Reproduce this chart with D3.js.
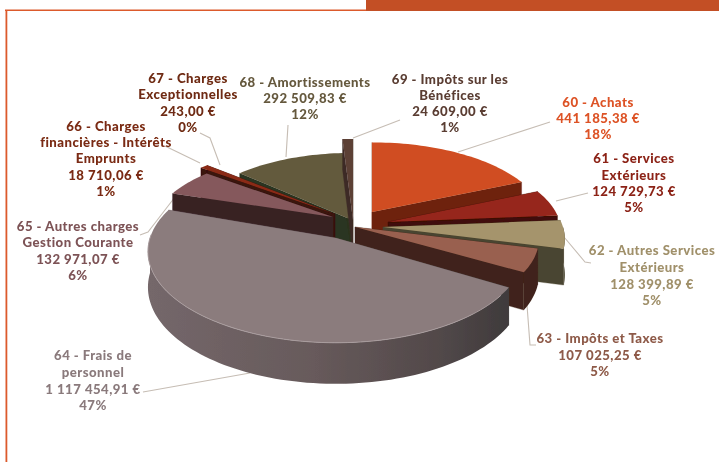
<!DOCTYPE html>
<html><head><meta charset="utf-8">
<script src="https://cdn.jsdelivr.net/npm/d3@7/dist/d3.min.js"></script>
<style>html,body{margin:0;padding:0;background:#fff}svg{display:block}text{font-family:Lato,"Open Sans",sans-serif;font-weight:900;font-size:13.2px;letter-spacing:.45px;text-anchor:middle}</style>
</head><body><svg id="c" width="719" height="462"></svg>
<script>
// --- data ---
const codes = ["60","61","62","63","64","65","66","67","68","69"];
const names = [["60 - Achats"],["61 - Services","Extérieurs"],["62 - Autres Services","Extérieurs"],["63 - Impôts et Taxes"],["64 - Frais de","personnel"],["65 - Autres charges","Gestion Courante"],["66 - Charges","financières - Intérêts","Emprunts"],["67 - Charges","Exceptionnelles"],["68 - Amortissements"],["69 - Impôts sur les","Bénéfices"]];
const values = [441185.38,124729.73,128399.89,107025.25,1117454.91,132971.07,18710.06,243.00,292509.83,24609.00];
const percents = [18,5,5,5,47,6,1,0,12,1];

// --- styling and layout ---
const topColors  = ["#d04e20","#96281a","#a5946c","#99604f","#8b7b7d","#85595c","#8b2c15","#8b2c15","#645a3d","#5c3f36"];
const wallColors = ["#6e220c","#3f0d07","#4a4530","#40241c","url(#wall64)","#392224","#3a120c","#3a120c","#2c3420","#3c2a25"];
const textColors = ["#dd5225","#8c2317","#a0906a","#8e5a48","#8a7a7c","#7d5356","#7a2a12","#6e2a12","#65593e","#5a3d33"];
const apexX = [372,388,383,355,336,333,335,335,352,353];
const apexY = [212,222,227,227,238,217,214,214,220,220];
const radii = [172,172,180,182,186,178,190,190,165,186];
const tilts = [.46,.47,.46,.45,.48,.42,.42,.42,.46,.50];
const drawOrder = [8,9,7,6,5,0,1,2,3,4];
const labelX = [598,634,652,600,93,78,106,188,305,450];
const labelY = [[102,118,134],[158,175,191,207],[250,267,284,300],[338,355,371],[355,372,389,405],[226,242,259,275],[126,142,158,175,191],[78,94,111,127],[82,98,114],[79,95,111,127]];
const leaders = [
 [[458,152],[550,122]],
 [[556,201],[588,193]],
 [[564,237],[585,262],[591,263]],
 [[527,305],[530,345],[536,345]],
 [[143,392],[250,373]],
 [[140,235],[148,232],[175,197]],
 [[165,146],[200,163]],
 [[200,133],[210,138],[220,165]],
 [[288,125],[286,157]],
 [[400,120],[353,138]]
];
const depth = 35, focal = 1260;

const svg = d3.select("#c");
const defs = svg.append("defs");
const g = defs.append("linearGradient").attr("id","wall64").attr("gradientUnits","userSpaceOnUse")
  .attr("x1",150).attr("x2",515).attr("y1",0).attr("y2",0);
[[0,"#74676a"],[.45,"#675a5b"],[.8,"#514849"],[1,"#3d393a"]].forEach(s=>g.append("stop").attr("offset",s[0]).attr("stop-color",s[1]));
defs.append("filter").attr("id","soft").append("feGaussianBlur").attr("stdDeviation",.55);
defs.append("filter").attr("id","softText").append("feGaussianBlur").attr("stdDeviation",.3);

// frame
svg.append("rect").attr("x",5).attr("y",9.5).attr("width",361).attr("height",1.5).attr("fill","#dc5a2c");
svg.append("rect").attr("x",5.5).attr("y",10).attr("width",1.8).attr("height",452).attr("fill","#dc5a2c");
svg.append("rect").attr("x",366).attr("y",0).attr("width",353).attr("height",11).attr("fill","#c34f25");

const arcs = d3.pie().sort(null).startAngle(0).endAngle(2*Math.PI)(values);
const line = d3.line();

function project(i, a, r, z){
  const X = r*Math.sin(a), Y = -r*Math.cos(a), s = focal/(focal-Y);
  return [apexX[i]+X*s, apexY[i]+Y*s*tilts[i]+z*s];
}
function arcPts(i, a0, a1, z){
  const n = Math.max(2, Math.ceil((a1-a0)/0.03)), pts = [];
  for(let k=0;k<=n;k++) pts.push(project(i, a0+(a1-a0)*k/n, radii[i], z));
  return pts;
}

// leaders under the pie
const leaderG = svg.append("g");
leaders.forEach(p=>leaderG.append("path").attr("d",line(p)).attr("fill","none").attr("stroke","#c6bdb4").attr("stroke-width",1.1));

const pieG = svg.append("g").attr("filter","url(#soft)");
drawOrder.forEach(i=>{
  const d = arcs[i], a0 = d.startAngle, a1 = d.endAngle, R = radii[i];
  const slice = pieG.append("g");
  if(a1-a0 < 0.002) return;
  // radial faces
  [a0,a1].forEach(a=>{
    const A = project(i,0,0,0), B = project(i,a,R,0), C = project(i,a,R,depth), E = project(i,0,0,depth);
    slice.append("path").attr("d",line([A,B,C,E])+"Z").attr("fill",wallColors[i]).attr("stroke",wallColors[i]).attr("stroke-width",.3);
  });
  // outer wall: front-facing part only
  const w0 = Math.max(a0, Math.PI/2), w1 = Math.min(a1, 3*Math.PI/2);
  if(w1 > w0){
    const top = arcPts(i,w0,w1,0), bot = arcPts(i,w0,w1,depth).reverse();
    slice.append("path").attr("d",line(top.concat(bot))+"Z").attr("fill",wallColors[i]);
  }
  // top surface
  const rim = arcPts(i,a0,a1,0);
  slice.append("path").attr("d",line([project(i,0,0,0)].concat(rim))+"Z").attr("fill",topColors[i]);
  if(i===4){
    slice.append("path").attr("d",line(rim.filter((p,k)=>k>2&&k<rim.length-10))).attr("fill","none").attr("stroke","#a89c9d").attr("stroke-width",1);
  }
});

// labels
const fr = d3.formatLocale({decimal:",",thousands:" ",grouping:[3],currency:["","€"]});
const money = fr.format(",.2f");
const labelG = svg.append("g").attr("filter","url(#softText)");
codes.forEach((c,i)=>{
  const lines = names[i].concat([money(values[i])+" €", percents[i]+"%"]);
  lines.forEach((t,k)=>{
    labelG.append("text").attr("x",labelX[i]).attr("y",labelY[i][k]+4.5).attr("fill",textColors[i]).text(t);
  });
});
</script></body></html>
